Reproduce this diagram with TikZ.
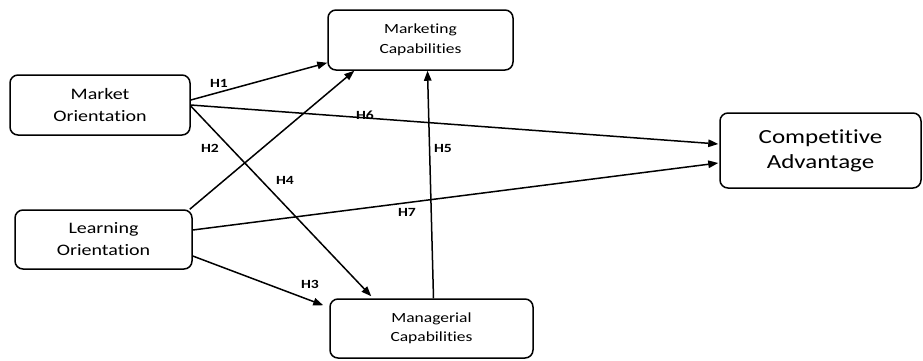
\documentclass[tikz,border=0pt]{standalone}
\usepackage{fontspec}
\setmainfont{Carlito}[FakeStretch=1.25, Ligatures=NoCommon]
\usetikzlibrary{arrows.meta}
\begin{document}
\begin{tikzpicture}[x=1pt,y=-1pt,
  box/.style={draw, line width=1.5pt, rounded corners=8pt, align=center, inner sep=0pt},
  link/.style={line width=1.5pt, -{Triangle[length=10pt,width=7.5pt]}},
  hyp/.style={font=\fontsize{12.5}{14}\selectfont\bfseries}]
\useasboundingbox (0,0) rectangle (923,360);
% constructs
\node[box, minimum width=180pt, minimum height=60pt, font=\fontsize{16}{22}\selectfont] (mo) at (100,105) {Market\\Orientation};
\node[box, minimum width=185pt, minimum height=60pt, font=\fontsize{14}{20}\selectfont] (mc) at (420.5,40) {Marketing\\Capabilities};
\node[box, minimum width=177pt, minimum height=59pt, font=\fontsize{16}{22}\selectfont] (lo) at (103.5,239.5) {Learning\\Orientation};
\node[box, minimum width=203pt, minimum height=59pt, font=\fontsize{14}{19}\selectfont] (mg) at (431.5,328.5) {Managerial\\Capabilities};
\node[box, minimum width=201pt, minimum height=75pt, font=\fontsize{20}{25}\selectfont] (ca) at (820.5,150.5) {Competitive\\Advantage};
% hypothesised paths
\draw[link] ([yshift=5pt]mo.east) -- ([yshift=8pt]mc.south west);
\draw[link] ([xshift=-3pt]lo.north east) -- ([xshift=27pt]mc.south west);
\draw[link] ([yshift=-1pt]mo.east) -- ([xshift=42pt,yshift=2pt]mg.north west);
\draw[link] ([yshift=-16.5pt]lo.east) -- ([xshift=-6pt,yshift=-7pt]mg.north west);
\draw[link] ([xshift=2pt]mg.north) -- ([xshift=7pt]mc.south);
\draw[link] (mo.east) -- ([yshift=6.5pt,xshift=-1pt]ca.west);
\draw[link] ([yshift=9.5pt]lo.east) -- ([yshift=-12.5pt,xshift=-1pt]ca.west);
% path labels
\node[hyp] (h1) at (219,83) {H1};
\node[hyp] (h2) at (210,148) {H2};
\node[hyp] (h3) at (310,284) {H3};
\node[hyp] (h4) at (285,180) {H4};
\node[hyp] (h5) at (443,148) {H5};
\node[hyp] (h6) at (365,115) {H6};
\node[hyp] (h7) at (407,212) {H7};
\end{tikzpicture}
\end{document}
